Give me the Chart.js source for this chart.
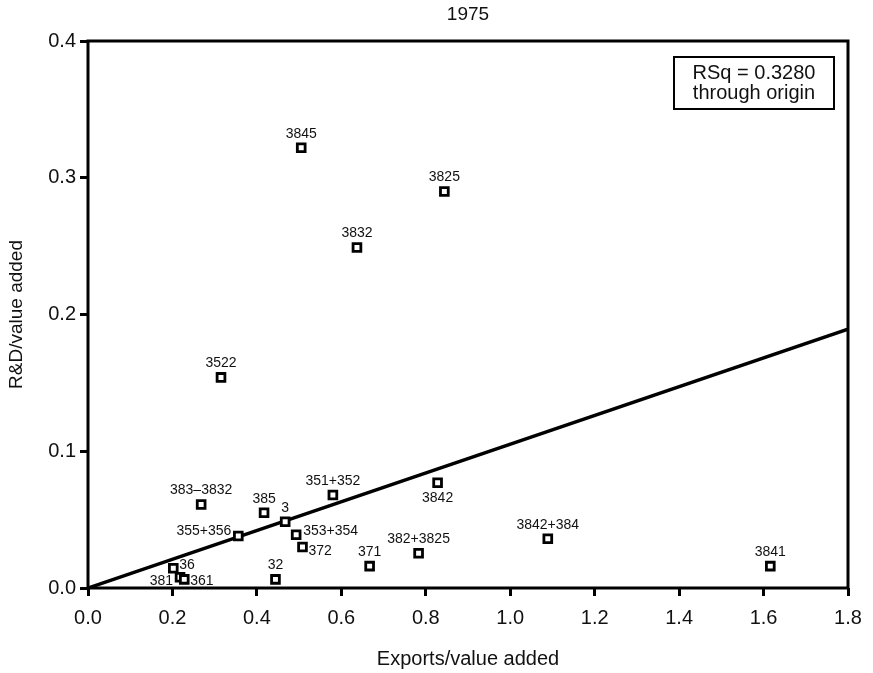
<!DOCTYPE html>
<html>
<head>
<meta charset="utf-8">
<script src="https://cdn.jsdelivr.net/npm/chart.js@4.4.1/dist/chart.umd.min.js"></script>
<style>
    body { margin: 0; background: #fff; }
</style>
</head>
<body>
<canvas id="scatter" width="873" height="673"></canvas>
<script>
// industry codes (ISIC) and their ratios, 1975
const industries = ['3845', '3825', '3832', '3522', '383–3832', '385', '3', '355+356',
    '353+354', '372', '36', '381', '361', '32', '351+352', '3842', '382+3825', '371',
    '3842+384', '3841'];
const exportsRatio = [0.505, 0.844, 0.637, 0.315, 0.268, 0.417, 0.467, 0.356,
    0.493, 0.508, 0.202, 0.218, 0.228, 0.444, 0.580, 0.828, 0.783, 0.667,
    1.089, 1.616];
const rdRatio = [0.322, 0.290, 0.249, 0.154, 0.061, 0.055, 0.0485, 0.038,
    0.039, 0.030, 0.0144, 0.0078, 0.0063, 0.0063, 0.068, 0.077, 0.0254, 0.016,
    0.036, 0.016];

const fitSlope = 0.1052; // regression through origin
const xTickValues = [0, 0.2, 0.4, 0.6, 0.8, 1.0, 1.2, 1.4, 1.6, 1.8];
const xTickLabels = ['0.0', '0.2', '0.4', '0.6', '0.8', '1.0', '1.2', '1.4', '1.6', '1.8'];
const yTickValues = [0, 0.1, 0.2, 0.3, 0.4];
const yTickLabels = ['0.0', '0.1', '0.2', '0.3', '0.4'];

// where a label sits relative to its marker (default: centred above)
const labelSide = {
    '36': { align: 'left', dx: 6, dy: -3 },
    '381': { align: 'right', dx: -7, dy: 4 },
    '361': { align: 'left', dx: 6, dy: 2 },
    '353+354': { align: 'left', dx: 7, dy: -4 },
    '372': { align: 'left', dx: 6, dy: 4 },
    '355+356': { align: 'right', dx: -7, dy: -5 },
    '3842': { align: 'center', dx: 0, dy: 15 },
};

const FONT = '"Liberation Sans", Arial, Helvetica, sans-serif';

const points = industries.map((name, i) => ({ x: exportsRatio[i], y: rdRatio[i] }));
const fitLine = [{ x: 0, y: 0 }, { x: 1.8, y: 1.8 * fitSlope }];

const decorations = {
    id: 'decorations',
    afterDraw(chart) {
        const ctx = chart.ctx;
        const area = chart.chartArea;
        ctx.save();

        // frame
        ctx.strokeStyle = '#000';
        ctx.lineWidth = 3;
        ctx.strokeRect(area.left, area.top, area.right - area.left, area.bottom - area.top);

        ctx.fillStyle = '#111';
        ctx.textBaseline = 'middle';

        // title
        ctx.textAlign = 'center';
        ctx.font = '19px ' + FONT;
        ctx.fillText('1975', (area.left + area.right) / 2, 15);

        // axis titles
        ctx.font = '20px ' + FONT;
        ctx.fillText('Exports/value added', (area.left + area.right) / 2, 659);
        ctx.save();
        ctx.translate(17, (area.top + area.bottom) / 2);
        ctx.rotate(-Math.PI / 2);
        ctx.font = '19px ' + FONT;
        ctx.fillText('R&D/value added', 0, 0);
        ctx.restore();

        // RSq box
        ctx.lineWidth = 2;
        ctx.strokeRect(674, 57, 160, 52);
        ctx.font = '20px ' + FONT;
        ctx.fillText('RSq = 0.3280', 754, 73);
        ctx.fillText('through origin', 754, 93);

        // point labels
        const meta = chart.getDatasetMeta(1);
        ctx.font = '14px ' + FONT;
        meta.data.forEach((pt, i) => {
            const name = industries[i];
            const side = labelSide[name] || { align: 'center', dx: 0, dy: -14 };
            ctx.textAlign = side.align;
            ctx.fillText(name, pt.x + side.dx, pt.y + side.dy);
        });
        ctx.restore();
    }
};

new Chart(document.getElementById('scatter'), {
    type: 'scatter',
    data: {
        datasets: [{
            label: 'fit',
            data: fitLine,
            showLine: true,
            borderColor: '#000',
            borderWidth: 3.5,
            pointRadius: 0,
            order: 2,
        }, {
            label: 'industries',
            data: points,
            pointStyle: 'rect',
            pointRadius: 5.5,
            pointHoverRadius: 5.5,
            pointBorderWidth: 2.8,
            pointBorderColor: '#000',
            pointBackgroundColor: '#fff',
            order: 1,
        }]
    },
    options: {
        responsive: false,
        animation: false,
        layout: { padding: { top: 41, right: 25, left: 0, bottom: 0 } },
        plugins: {
            legend: { display: false },
            tooltip: { enabled: false },
        },
        scales: {
            x: {
                type: 'linear',
                min: 0,
                max: 1.8,
                afterFit: scale => { scale.height = 85; },
                afterBuildTicks: scale => { scale.ticks = xTickValues.map(v => ({ value: v })); },
                ticks: {
                    autoSkip: false,
                    maxRotation: 0,
                    padding: 10,
                    color: '#111',
                    font: { family: FONT, size: 20 },
                    callback: (v, i) => xTickLabels[i],
                },
                grid: { drawOnChartArea: false, tickLength: 8, tickWidth: 3, tickColor: '#000' },
                border: { display: false },
            },
            y: {
                type: 'linear',
                min: 0,
                max: 0.4,
                afterFit: scale => { scale.width = 88; },
                afterBuildTicks: scale => { scale.ticks = yTickValues.map(v => ({ value: v })); },
                ticks: {
                    autoSkip: false,
                    padding: 4,
                    color: '#111',
                    font: { family: FONT, size: 20 },
                    callback: (v, i) => yTickLabels[i],
                },
                grid: { drawOnChartArea: false, tickLength: 8, tickWidth: 3, tickColor: '#000' },
                border: { display: false },
            }
        }
    },
    plugins: [decorations]
});
</script>
</body>
</html>
